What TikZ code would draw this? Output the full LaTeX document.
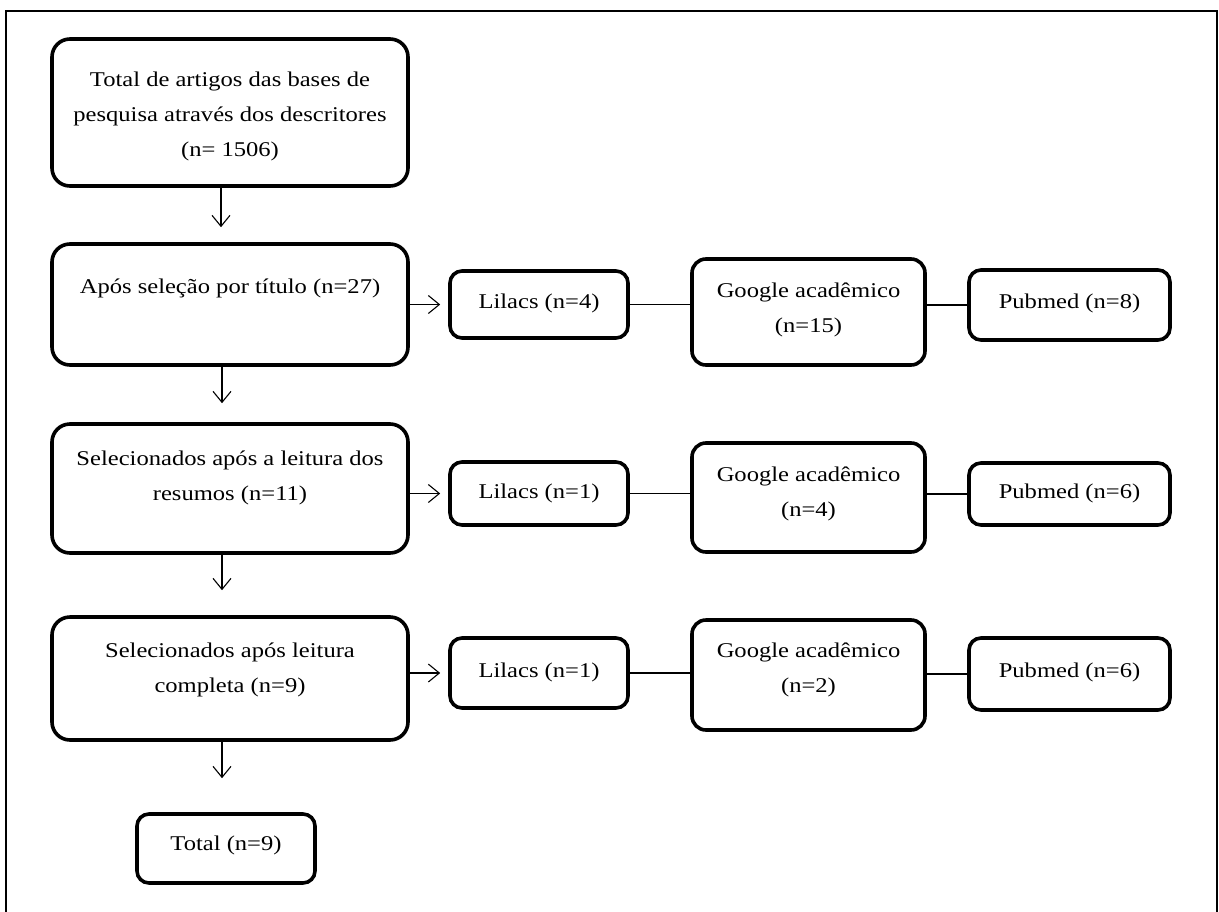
\documentclass[tikz,border=0pt]{standalone}
\usepackage{fontspec}
\setmainfont[FakeStretch=1.17]{Liberation Serif}
\usetikzlibrary{arrows.meta}
\tikzset{
  box/.style={draw, line width=3.6pt, rounded corners=#1, minimum width=0pt, inner sep=0pt},
  box/.default=14pt,
  txt/.style={align=center, font=\fontsize{21}{35}\selectfont, inner sep=0pt},
  arr/.style={line width=1.1pt, -{Straight Barb[length=11pt,width=18pt,line width=1.1pt]}},
  link/.style={line width=1.1pt}
}
\newcommand{\bx}[6]{\node[box=#6, minimum width=#4pt, minimum height=#5pt] (#1) at (#2,#3) {};}
\begin{document}
\begin{tikzpicture}[x=1pt,y=-1pt]
\useasboundingbox (0,0) rectangle (1219,911);
\draw[line width=1.5pt] (6,930) -- (6,11) -- (1217,11) -- (1217,930);
% left column
\bx{b1}{230}{112.5}{356}{147}{18pt}
\bx{b2}{230}{304.5}{356}{121}{18pt}
\bx{b3}{230}{488.5}{356}{129}{18pt}
\bx{b4}{230}{678.5}{356}{123}{18pt}
\bx{b5}{226}{848.5}{178}{69}{12pt}
\node[txt] (t1) at (230,116) {Total de artigos das bases de\\pesquisa através dos descritores\\(n= 1506)};
\node[txt] (t2) at (230,288) {Após seleção por título (n=27)};
\node[txt] (t3) at (230,477.5) {Selecionados após a leitura dos\\resumos (n=11)};
\node[txt] (t4) at (230,669.5) {Selecionados após leitura\\completa (n=9)};
\node[txt] (t5) at (226,845) {Total (n=9)};
% rows
\bx{L1}{539}{304.5}{178}{67}{12pt}
\bx{G1}{808.5}{312}{233}{106}{14pt}
\bx{P1}{1069.5}{305}{201}{70}{12pt}
\bx{L2}{539}{493.5}{178}{63}{12pt}
\bx{G2}{808.5}{497.5}{233}{109}{14pt}
\bx{P2}{1069.5}{494}{201}{62}{12pt}
\bx{L3}{539}{673}{178}{70}{12pt}
\bx{G3}{808.5}{675}{233}{110}{14pt}
\bx{P3}{1069.5}{674}{201}{72}{12pt}
\node[txt] (tl1) at (539,303) {Lilacs (n=4)};
\node[txt] (tg1) at (808.5,310) {Google acadêmico\\(n=15)};
\node[txt] (tp1) at (1069.5,303) {Pubmed (n=8)};
\node[txt] (tl2) at (539,493) {Lilacs (n=1)};
\node[txt] (tg2) at (808.5,494) {Google acadêmico\\(n=4)};
\node[txt] (tp2) at (1069.5,493) {Pubmed (n=6)};
\node[txt] (tl3) at (539,672) {Lilacs (n=1)};
\node[txt] (tg3) at (808.5,669.5) {Google acadêmico\\(n=2)};
\node[txt] (tp3) at (1069.5,672) {Pubmed (n=6)};
% vertical arrows
\draw[arr, shorten >=15pt] ([xshift=-9pt]b1.south) -- ([xshift=-9pt]b2.north);
\draw[arr, shorten >=19pt] ([xshift=-8pt]b2.south) -- ([xshift=-8pt]b3.north);
\draw[arr, shorten >=25pt] ([xshift=-8pt]b3.south) -- ([xshift=-8pt]b4.north);
\draw[arr, shorten >=34pt] ([xshift=-8pt]b4.south) -- ([xshift=-4pt]b5.north);
% horizontal arrows
\draw[arr, shorten >=8pt] (b2.east |- L1.west) -- (L1.west);
\draw[arr, shorten >=8pt] (b3.east |- L2.west) -- (L2.west);
\draw[arr, shorten >=8pt] (b4.east |- L3.west) -- (L3.west);
% links
\draw[link] (L1.east) -- (L1.east -| G1.west);
\draw[link] (G1.east |- P1.west) -- (P1.west);
\draw[link] (L2.east) -- (L2.east -| G2.west);
\draw[link] (G2.east |- P2.west) -- (P2.west);
\draw[link] (L3.east) -- (L3.east -| G3.west);
\draw[link] (G3.east |- P3.west) -- (P3.west);
\end{tikzpicture}
\end{document}
